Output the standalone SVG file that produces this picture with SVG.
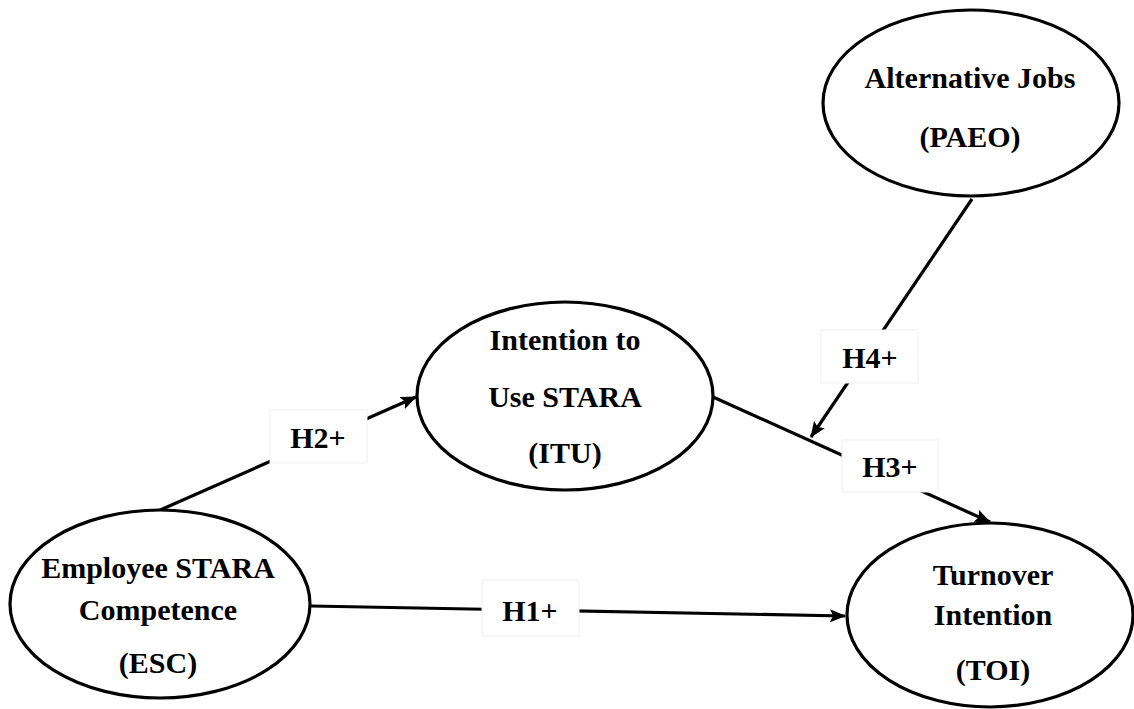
<svg xmlns="http://www.w3.org/2000/svg" width="1134" height="709" viewBox="0 0 1134 709">
<style>
.node ellipse{fill:#fff;stroke:#000;stroke-width:3.2}
.node text,.lbl text{font-family:"Liberation Serif","Times New Roman",serif;font-weight:bold;font-size:30px;fill:#000;text-anchor:middle}
.conn line{stroke:#000;stroke-width:3.2}
.lbl rect{fill:#fff;stroke:#f0f0f0;stroke-width:1}
</style>
<defs>
<marker id="arr" markerUnits="userSpaceOnUse" markerWidth="18" markerHeight="14" refX="15" refY="7" orient="auto">
<path d="M0,0.5 L16,7 L0,13.5 L3,7 Z" fill="#000"/>
</marker>
</defs>
<rect width="1134" height="709" fill="#fff"/>
<g id="connectors" class="conn">
<line x1="158" y1="511" x2="416" y2="397" marker-end="url(#arr)"/>
<line x1="311" y1="606" x2="845" y2="616" marker-end="url(#arr)"/>
<line x1="713" y1="397" x2="990" y2="522" marker-end="url(#arr)"/>
<line x1="972" y1="199" x2="811" y2="437" marker-end="url(#arr)"/>
</g>
<g id="labels" class="lbl">
<g id="lbl-h2"><rect x="270" y="410" width="97" height="53"/><text x="318" y="448">H2+</text></g>
<g id="lbl-h1"><rect x="482" y="580" width="97" height="56"/><text x="530" y="621">H1+</text></g>
<g id="lbl-h3"><rect x="842" y="440" width="96" height="52"/><text x="890" y="477">H3+</text></g>
<g id="lbl-h4"><rect x="821" y="330" width="97" height="53"/><text x="870" y="368">H4+</text></g>
</g>
<g id="node-esc" class="node">
<ellipse cx="160" cy="604" rx="150" ry="94"/>
<text x="158" y="578">Employee STARA</text>
<text x="158" y="620">Competence</text>
<text x="158" y="673">(ESC)</text>
</g>
<g id="node-itu" class="node">
<ellipse cx="565" cy="396" rx="148" ry="94"/>
<text x="565" y="350">Intention to</text>
<text x="565" y="407">Use STARA</text>
<text x="565" y="463">(ITU)</text>
</g>
<g id="node-toi" class="node">
<ellipse cx="990" cy="615" rx="143" ry="92"/>
<text x="993" y="585">Turnover</text>
<text x="993" y="625">Intention</text>
<text x="993" y="680">(TOI)</text>
</g>
<g id="node-paeo" class="node">
<ellipse cx="971" cy="103" rx="148" ry="93"/>
<text x="970" y="88">Alternative Jobs</text>
<text x="970" y="147">(PAEO)</text>
</g>
</svg>
